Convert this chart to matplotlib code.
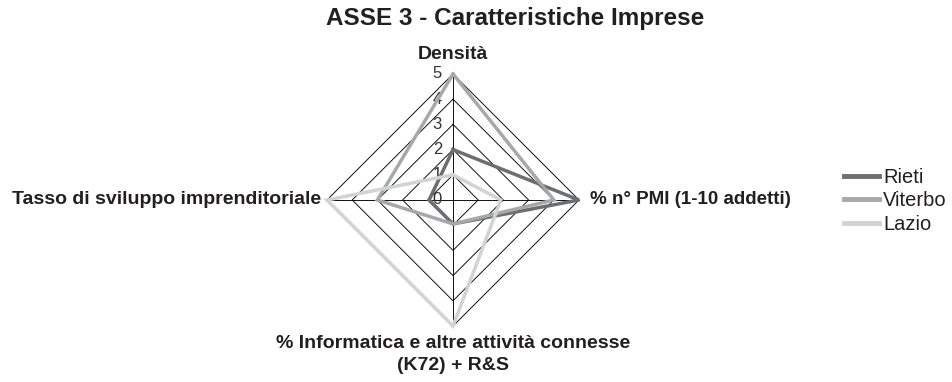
import numpy as np
import matplotlib
matplotlib.use("Agg")
import matplotlib.pyplot as plt
from matplotlib.lines import Line2D

plt.rcParams['font.family'] = ['Liberation Sans', 'DejaVu Sans']

title = "ASSE 3 - Caratteristiche Imprese"
categories = ["Densità", "% n° PMI (1-10 addetti)",
              "% Informatica e altre attività connesse\n(K72) + R&S",
              "Tasso di sviluppo imprenditoriale"]
series_names = ["Rieti", "Viterbo", "Lazio"]
rieti = [2.0, 5.0, 0.95, 0.95]
viterbo = [5.0, 4.0, 0.95, 3.0]
lazio = [1.0, 1.9, 5.0, 5.0]
series_values = [rieti, viterbo, lazio]
colors = ["#6d6e70", "#a6a8ab", "#d2d3d5"]
radial_ticks = [0, 1, 2, 3, 4, 5]

fig = plt.figure(figsize=(9.52, 3.82), dpi=100)
ax = fig.add_axes([0.3435, 0.1466, 0.2647, 0.6597], projection='polar')
ax.set_theta_zero_location('N')
ax.set_theta_direction(-1)
ax.set_ylim(0, 5)
ax.grid(False)
ax.spines['polar'].set_visible(False)
ax.set_xticks([])
ax.set_yticks([])
ax.patch.set_alpha(0)

n = len(categories)
angles = np.arange(n) * 2 * np.pi / n
closed = np.concatenate([angles, angles[:1]])

# polygonal grid
for r in radial_ticks[1:]:
    ax.plot(closed, [r] * (n + 1), color='black', lw=0.65, zorder=1, clip_on=False)
for a in angles:
    ax.plot([a, a], [0, 5], color='black', lw=0.65, zorder=1, clip_on=False)

for name, vals, c in zip(series_names, series_values, colors):
    v = list(vals) + [vals[0]]
    ax.plot(closed, v, color=c, lw=2.5, zorder=3, clip_on=False,
            solid_joinstyle='miter')

# radial tick labels
for r in radial_ticks:
    ax.annotate(str(r), xy=(0, r), xytext=(-11, 0), textcoords='offset pixels',
                ha='right', va='center', fontsize=12, color='#333333', zorder=2)

# category labels
offsets = [(0, 19, 'center', 'center'), (11, 0, 'left', 'center'),
           (0, -9, 'center', 'top'), (-6, 0, 'right', 'center')]
sizes = [14, 13.5, 14, 14]
for a, lab, (dx, dy, ha, va), fs in zip(angles, categories, offsets, sizes):
    ax.annotate(lab, xy=(a, 5), xytext=(dx, dy), textcoords='offset pixels',
                ha=ha, va=va, fontsize=fs, fontweight='bold', color='#231f20',
                linespacing=1.35, annotation_clip=False)

fig.text(515 / 952, 1 - 18 / 382, title, ha='center', va='center',
         fontsize=17.5, fontweight='bold', color='#231f20')

handles = [Line2D([], [], color=c, lw=3.5) for c in colors]
leg = fig.legend(handles, series_names, loc='center left',
                 bbox_to_anchor=(844 / 952, 1 - 201 / 382), frameon=False,
                 fontsize=14.5, handlelength=1.75, handletextpad=0.2,
                 labelspacing=0.22, borderpad=0, borderaxespad=0)
for t in leg.get_texts():
    t.set_color('#231f20')

fig.savefig("out.png", dpi=100)
